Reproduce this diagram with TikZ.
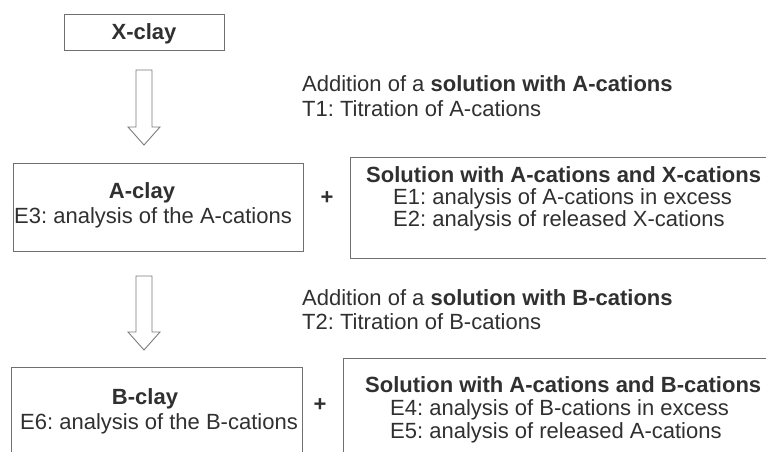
\documentclass[tikz,border=0pt]{standalone}
\usepackage{fontspec}
\setmainfont{Liberation Sans}
\frenchspacing
\definecolor{txt}{HTML}{303030}
\definecolor{ln}{HTML}{707070}
\definecolor{arr}{HTML}{7A7A7A}
\tikzset{
  box/.style={draw=ln, line width=0.9pt, inner sep=0pt},
  lbl/.style={text=txt, font=\fontsize{22}{24}\selectfont, inner sep=0pt},
  bl/.style={text=txt, font=\fontsize{22}{24}\selectfont\bfseries, inner sep=0pt},
  blockarrow/.style={draw=arr, line width=0.9pt, fill=white, line join=miter}
}
\begin{document}
\begin{tikzpicture}[x=1pt,y=-1pt]
\useasboundingbox (0,0) rectangle (766,452);
\fill[white] (0,0) rectangle (766,452);
\clip (0,0) rectangle (766,452);

% boxes
\node[box, minimum width=160pt, minimum height=36pt] (xclay) at (144,32) {};
\node[box, minimum width=290pt, minimum height=88pt] (aclay) at (158,207) {};
\node[box, minimum width=470pt, minimum height=101pt] (sol1) at (585,207.5) {};
\node[box, minimum width=291pt, minimum height=133pt] (bclay) at (156.5,433.5) {};
\node[box, minimum width=477pt, minimum height=142pt] (sol2) at (581.5,429) {};

% texts
\node[bl, anchor=base] (txclay) at (144,40) {X-clay};

\node[lbl, anchor=base west] (add1) at (302,92) {Addition of a \textbf{solution with A-cations}};
\node[lbl, anchor=base west] (t1) at (302,116) {T1: Titration of A-cations};

\node[bl, anchor=base] (taclay) at (142,198) {A-clay};
\node[lbl, anchor=base west] (e3) at (14,223) {E3: analysis of the A-cations};

\node[bl] (plus1) at (327,198) {+};

\node[bl, anchor=base west] (s1t) at (366,182) {Solution with A-cations and X-cations};
\node[lbl, anchor=base west] (e1) at (393,204) {E1: analysis of A-cations in excess};
\node[lbl, anchor=base west] (e2) at (393,226) {E2: analysis of released X-cations};

\node[lbl, anchor=base west] (add2) at (302,305) {Addition of a \textbf{solution with B-cations}};
\node[lbl, anchor=base west] (t2) at (302,329) {T2: Titration of B-cations};

\node[bl, anchor=base] (tbclay) at (145,404) {B-clay};
\node[lbl, anchor=base west] (e6) at (20,429) {E6: analysis of the B-cations};

\node[bl] (plus2) at (320,405) {+};

\node[bl, anchor=base west] (s2t) at (365,392) {Solution with A-cations and B-cations};
\node[lbl, anchor=base west] (e4) at (390,415) {E4: analysis of B-cations in excess};
\node[lbl, anchor=base west] (e5) at (390,438) {E5: analysis of released A-cations};

% block arrows
\draw[blockarrow] (136,70) -- (152,70) -- (152,127) -- (160,127) -- (144,145) -- (128,127) -- (136,127) -- cycle;
\draw[blockarrow] (136,276) -- (152,276) -- (152,332) -- (160,332) -- (144,350) -- (128,332) -- (136,332) -- cycle;
\end{tikzpicture}
\end{document}
